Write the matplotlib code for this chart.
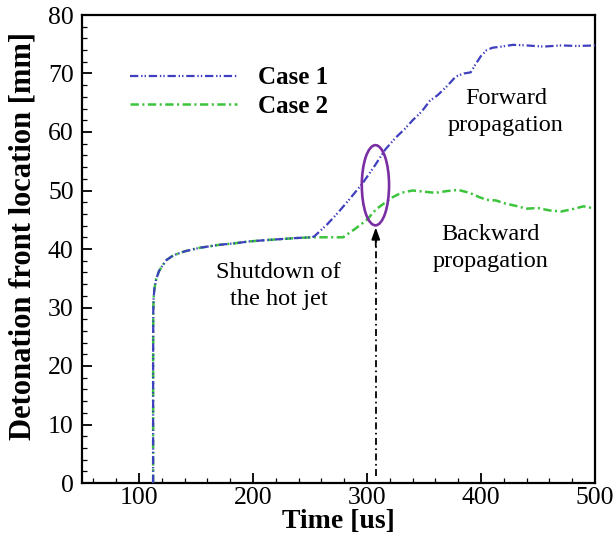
import matplotlib
matplotlib.use("Agg")
import matplotlib.pyplot as plt
from matplotlib.patches import Ellipse
from matplotlib.ticker import MultipleLocator

plt.rcParams['font.family'] = ['Liberation Serif', 'DejaVu Serif']
plt.rcParams['lines.scale_dashes'] = False

# shared early part (both cases)
t_common = [112.4, 112.4, 112.5, 112.8, 113.5, 115, 117.5, 120, 124, 130, 140, 153, 170, 185, 197, 210, 225, 240, 252]
v_common = [0, 20, 29, 31.5, 33.2, 34.8, 36.2, 37.0, 38.1, 38.9, 39.6, 40.2, 40.7, 41.0, 41.3, 41.5, 41.7, 41.9, 42.0]

t_case1 = [254, 265, 275, 285, 296, 306, 316, 325, 333, 340, 348, 355, 362, 370, 378, 385,
           391, 395, 400, 405, 410, 418, 428, 440, 455, 470, 485, 500]
v_case1 = [42.2, 44.2, 46.3, 48.6, 51.2, 54.0, 57.0, 59.0, 60.5, 62.0, 63.5, 65.3, 66.3, 67.8, 69.5, 70.0,
           70.2, 71.5, 73.0, 74.0, 74.4, 74.6, 74.9, 74.8, 74.6, 74.8, 74.7, 74.8]

t_case2 = [254, 265, 279, 290, 300, 308, 315, 322, 330, 340, 350, 360, 370, 380, 390, 398,
           405, 413, 421, 430, 440, 450, 460, 470, 480, 490, 500]
v_case2 = [42.0, 42.0, 42.0, 43.5, 45.0, 46.8, 47.8, 48.8, 49.6, 50.0, 49.8, 49.6, 49.9, 50.1, 49.6, 48.9,
           48.4, 48.3, 47.8, 47.4, 46.9, 47.0, 46.6, 46.4, 46.8, 47.3, 46.9]

labels = ['Case 1', 'Case 2']
x_ticks = [100, 200, 300, 400, 500]
y_ticks = [0, 10, 20, 30, 40, 50, 60, 70, 80]

shutdown_time = 307.7
ellipse_center = (307.4, 50.9)
ellipse_size = (23.9, 13.7)

fig = plt.figure(figsize=(6.14, 5.41), dpi=100)
ax = fig.add_axes([82/614, (541-483)/541, (595-82)/614, (483-15)/541])

c1 = '#3f3fbf'
c2 = '#3cc43c'
ax.plot(t_common + t_case1, v_common + v_case1, color=c1, lw=1.6,
        linestyle=(0, (6, 2, 1, 1.5, 1, 2)), label=labels[0], zorder=3)
ax.plot(t_common + t_case2, v_common + v_case2, color=c2, lw=1.8,
        linestyle=(0, (6, 2.5, 1.5, 2.5)), label=labels[1], zorder=2)

ax.add_patch(Ellipse(ellipse_center, ellipse_size[0], ellipse_size[1], fill=False,
                     edgecolor='#7a2ea3', lw=1.9, zorder=4))

ax.plot([shutdown_time, shutdown_time], [1.2, 41.5], color='k', lw=1.3,
        linestyle=(0, (5, 2.5, 1.2, 2.5)), zorder=4)
ax.annotate('', xy=(shutdown_time, 43.7), xytext=(shutdown_time, 40.5),
            arrowprops=dict(arrowstyle='-|>,head_length=0.7,head_width=0.25',
                            color='k', lw=1.3, shrinkA=0, shrinkB=0), zorder=5)

ax.set_xlim(50, 500)
ax.set_ylim(0, 80)
ax.set_xticks(x_ticks)
ax.set_yticks(y_ticks)
ax.xaxis.set_minor_locator(MultipleLocator(20))
ax.yaxis.set_minor_locator(MultipleLocator(2))
ax.tick_params(which='major', direction='in', length=7, width=1.3, labelsize=18.5,
               top=False, right=False)
ax.tick_params(which='minor', direction='in', length=3.5, width=0.9, top=False, right=False)
ax.tick_params(axis='y', which='major', pad=6)
ax.tick_params(axis='x', which='major', pad=3)
for s in ax.spines.values():
    s.set_linewidth(1.6)

ax.set_xlabel('Time [us]', fontsize=20, fontweight='bold', labelpad=0)
ax.set_ylabel('Detonation front location [mm]', fontsize=22, fontweight='bold')
ax.yaxis.set_label_coords(-0.086, 0.528)

leg = ax.legend(loc='upper left', bbox_to_anchor=(0.0936, 0.89), frameon=False,
                prop={'weight': 'bold', 'size': 18}, handlelength=4.28, handletextpad=0.84,
                labelspacing=0.22, borderpad=0, borderaxespad=0)

ax.text(422, 63.4, 'Forward\npropagation', ha='center', va='center', fontsize=17.5, linespacing=1.4)
ax.text(408.6, 40.2, 'Backward\npropagation', ha='center', va='center', fontsize=17.5, linespacing=1.4)
ax.text(222.3, 33.7, 'Shutdown of\nthe hot jet', ha='center', va='center', fontsize=17.5, linespacing=1.4)

fig.savefig('out.png', dpi=100)
